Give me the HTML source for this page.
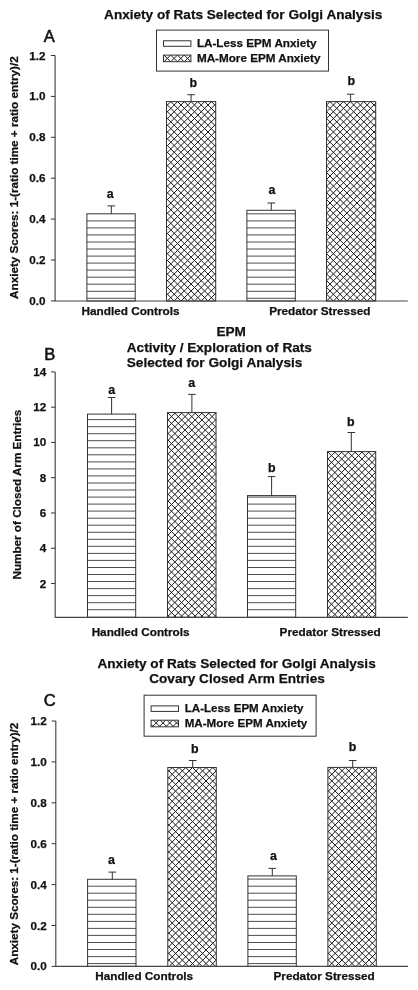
<!DOCTYPE html>
<html><head><meta charset="utf-8"><title>Anxiety of Rats Selected for Golgi Analysis</title>
<style>html,body{margin:0;padding:0;background:#fff}svg{display:block;will-change:transform}text{font-family:'Liberation Sans', sans-serif;fill:#111;stroke:#111;stroke-width:.25px}</style>
</head><body>
<svg width="418" height="990" viewBox="0 0 418 990">
<rect width="418" height="990" fill="#fff"/>
<text x="243.2" y="19.2" font-size="13.6" text-anchor="middle" font-weight="bold" >Anxiety of Rats Selected for Golgi Analysis</text>
<text x="49.2" y="41.9" font-size="16.5" text-anchor="middle" font-weight="normal" style="stroke-width:.55px">A</text>
<path d="M86.9 298.3H135.2M86.9 291.3H135.2M86.9 284.2H135.2M86.9 277.2H135.2M86.9 270.1H135.2M86.9 263.1H135.2M86.9 256.1H135.2M86.9 249H135.2M86.9 242H135.2M86.9 234.9H135.2M86.9 227.9H135.2M86.9 220.9H135.2" stroke="#3a3a3a" stroke-width="0.9" fill="none"/>
<rect x="86.9" y="213.8" width="48.3" height="87.2" fill="none" stroke="#333" stroke-width="1"/>
<path d="M111.3 213.8V205.9M107.5 205.9H115.1" stroke="#333" stroke-width="1" fill="none"/>
<text x="110.1" y="198.4" font-size="12.4" text-anchor="middle" font-weight="bold" >a</text>
<path d="M166.5 300.1L167.4 301M166.5 293.3L174.2 301M166.5 286.6L180.9 301M166.5 279.8L187.7 301M166.5 273.1L194.4 301M166.5 266.3L201.2 301M166.5 259.5L208 301M166.5 252.8L214.7 301M166.5 246L215.7 295.2M166.5 239.3L215.7 288.5M166.5 232.5L215.7 281.7M166.5 225.7L215.7 274.9M166.5 219L215.7 268.2M166.5 212.2L215.7 261.4M166.5 205.5L215.7 254.7M166.5 198.7L215.7 247.9M166.5 191.9L215.7 241.1M166.5 185.2L215.7 234.4M166.5 178.4L215.7 227.6M166.5 171.7L215.7 220.9M166.5 164.9L215.7 214.1M166.5 158.1L215.7 207.3M166.5 151.4L215.7 200.6M166.5 144.6L215.7 193.8M166.5 137.9L215.7 187.1M166.5 131.1L215.7 180.3M166.5 124.3L215.7 173.5M166.5 117.6L215.7 166.8M166.5 110.8L215.7 160M166.5 104.1L215.7 153.3M170.8 101.6L215.7 146.5M177.6 101.6L215.7 139.7M184.3 101.6L215.7 133M191.1 101.6L215.7 126.2M197.8 101.6L215.7 119.5M204.6 101.6L215.7 112.7M211.4 101.6L215.7 105.9M166.5 105.9L170.8 101.6M166.5 112.7L177.6 101.6M166.5 119.4L184.3 101.6M166.5 126.2L191.1 101.6M166.5 132.9L197.8 101.6M166.5 139.7L204.6 101.6M166.5 146.5L211.4 101.6M166.5 153.2L215.7 104M166.5 160L215.7 110.8M166.5 166.7L215.7 117.5M166.5 173.5L215.7 124.3M166.5 180.3L215.7 131.1M166.5 187L215.7 137.8M166.5 193.8L215.7 144.6M166.5 200.5L215.7 151.3M166.5 207.3L215.7 158.1M166.5 214.1L215.7 164.9M166.5 220.8L215.7 171.6M166.5 227.6L215.7 178.4M166.5 234.3L215.7 185.1M166.5 241.1L215.7 191.9M166.5 247.9L215.7 198.7M166.5 254.6L215.7 205.4M166.5 261.4L215.7 212.2M166.5 268.1L215.7 218.9M166.5 274.9L215.7 225.7M166.5 281.7L215.7 232.5M166.5 288.4L215.7 239.2M166.5 295.2L215.7 246M167.4 301L215.7 252.7M174.2 301L215.7 259.5M181 301L215.7 266.3M187.7 301L215.7 273M194.5 301L215.7 279.8M201.2 301L215.7 286.5M208 301L215.7 293.3M214.8 301L215.7 300.1" stroke="#1a1a1a" stroke-width="1.0" fill="none"/>
<rect x="166.5" y="101.6" width="49.2" height="199.4" fill="none" stroke="#333" stroke-width="1"/>
<path d="M191.1 101.6V94.7M187.3 94.7H194.9" stroke="#333" stroke-width="1" fill="none"/>
<text x="193.3" y="86.6" font-size="12.4" text-anchor="middle" font-weight="bold" >b</text>
<path d="M246.9 298.3H295.3M246.9 291.3H295.3M246.9 284.2H295.3M246.9 277.2H295.3M246.9 270.1H295.3M246.9 263.1H295.3M246.9 256.1H295.3M246.9 249H295.3M246.9 242H295.3M246.9 234.9H295.3M246.9 227.9H295.3M246.9 220.9H295.3M246.9 213.8H295.3" stroke="#3a3a3a" stroke-width="0.9" fill="none"/>
<rect x="246.9" y="210.3" width="48.4" height="90.7" fill="none" stroke="#333" stroke-width="1"/>
<path d="M271.3 210.3V203M267.5 203H275.1" stroke="#333" stroke-width="1" fill="none"/>
<text x="272" y="193.9" font-size="12.4" text-anchor="middle" font-weight="bold" >a</text>
<path d="M326.5 294.1L333.4 301M326.5 287.4L340.1 301M326.5 280.6L346.9 301M326.5 273.9L353.6 301M326.5 267.1L360.4 301M326.5 260.3L367.2 301M326.5 253.6L373.9 301M326.5 246.8L375.7 296M326.5 240.1L375.7 289.3M326.5 233.3L375.7 282.5M326.5 226.5L375.7 275.7M326.5 219.8L375.7 269M326.5 213L375.7 262.2M326.5 206.3L375.7 255.5M326.5 199.5L375.7 248.7M326.5 192.7L375.7 241.9M326.5 186L375.7 235.2M326.5 179.2L375.7 228.4M326.5 172.5L375.7 221.7M326.5 165.7L375.7 214.9M326.5 158.9L375.7 208.1M326.5 152.2L375.7 201.4M326.5 145.4L375.7 194.6M326.5 138.7L375.7 187.9M326.5 131.9L375.7 181.1M326.5 125.1L375.7 174.3M326.5 118.4L375.7 167.6M326.5 111.6L375.7 160.8M326.5 104.9L375.7 154.1M330 101.6L375.7 147.3M336.8 101.6L375.7 140.5M343.5 101.6L375.7 133.8M350.3 101.6L375.7 127M357 101.6L375.7 120.3M363.8 101.6L375.7 113.5M370.6 101.6L375.7 106.7M326.5 105.1L330 101.6M326.5 111.9L336.8 101.6M326.5 118.6L343.5 101.6M326.5 125.4L350.3 101.6M326.5 132.1L357 101.6M326.5 138.9L363.8 101.6M326.5 145.7L370.6 101.6M326.5 152.4L375.7 103.2M326.5 159.2L375.7 110M326.5 165.9L375.7 116.7M326.5 172.7L375.7 123.5M326.5 179.5L375.7 130.3M326.5 186.2L375.7 137M326.5 193L375.7 143.8M326.5 199.7L375.7 150.5M326.5 206.5L375.7 157.3M326.5 213.3L375.7 164.1M326.5 220L375.7 170.8M326.5 226.8L375.7 177.6M326.5 233.5L375.7 184.3M326.5 240.3L375.7 191.1M326.5 247.1L375.7 197.9M326.5 253.8L375.7 204.6M326.5 260.6L375.7 211.4M326.5 267.3L375.7 218.1M326.5 274.1L375.7 224.9M326.5 280.9L375.7 231.7M326.5 287.6L375.7 238.4M326.5 294.4L375.7 245.2M326.6 301L375.7 251.9M333.4 301L375.7 258.7M340.2 301L375.7 265.5M346.9 301L375.7 272.2M353.7 301L375.7 279M360.4 301L375.7 285.7M367.2 301L375.7 292.5M374 301L375.7 299.3" stroke="#1a1a1a" stroke-width="1.0" fill="none"/>
<rect x="326.5" y="101.6" width="49.2" height="199.4" fill="none" stroke="#333" stroke-width="1"/>
<path d="M350.6 101.6V94.2M346.8 94.2H354.4" stroke="#333" stroke-width="1" fill="none"/>
<text x="351.2" y="85.4" font-size="12.4" text-anchor="middle" font-weight="bold" >b</text>
<path d="M55.1 55.5V301H407.8" stroke="#454545" stroke-width="1.15" fill="none"/>
<path d="M50.9 55.5H55.1" stroke="#333" stroke-width="1"/>
<text x="45.5" y="60" font-size="11.7" text-anchor="end" font-weight="bold" >1.2</text>
<path d="M50.9 96.4H55.1" stroke="#333" stroke-width="1"/>
<text x="45.5" y="100" font-size="11.7" text-anchor="end" font-weight="bold" >1.0</text>
<path d="M50.9 137.3H55.1" stroke="#333" stroke-width="1"/>
<text x="45.5" y="141" font-size="11.7" text-anchor="end" font-weight="bold" >0.8</text>
<path d="M50.9 178.2H55.1" stroke="#333" stroke-width="1"/>
<text x="45.5" y="182" font-size="11.7" text-anchor="end" font-weight="bold" >0.6</text>
<path d="M50.9 219.1H55.1" stroke="#333" stroke-width="1"/>
<text x="45.5" y="223" font-size="11.7" text-anchor="end" font-weight="bold" >0.4</text>
<path d="M50.9 260H55.1" stroke="#333" stroke-width="1"/>
<text x="45.5" y="264" font-size="11.7" text-anchor="end" font-weight="bold" >0.2</text>
<path d="M50.9 300.9H55.1" stroke="#333" stroke-width="1"/>
<text x="45.5" y="305" font-size="11.7" text-anchor="end" font-weight="bold" >0.0</text>
<text transform="translate(17.9 177.6) rotate(-90)" font-size="11.7" text-anchor="middle" font-weight="bold">Anxiety Scores: 1-(ratio time + ratio entry)/2</text>
<text x="130.5" y="315.2" font-size="11.75" text-anchor="middle" font-weight="bold" >Handled Controls</text>
<text x="319.8" y="315.2" font-size="11.75" text-anchor="middle" font-weight="bold" >Predator Stressed</text>
<rect x="156.5" y="30.1" width="172" height="41" fill="#fff" stroke="#333" stroke-width="1"/>
<rect x="163.5" y="40.8" width="27.4" height="5.5" fill="#fff" stroke="#333" stroke-width="1"/>
<path d="M163.5 61.4L163.8 61.7M164 55.1L170.6 61.7M170.8 55.1L177.4 61.7M177.5 55.1L184.1 61.7M184.3 55.1L190.9 61.7M163.5 55.4L163.8 55.1M164 61.7L170.6 55.1M170.8 61.7L177.4 55.1M177.5 61.7L184.1 55.1M184.3 61.7L190.9 55.1" stroke="#1a1a1a" stroke-width="1.0" fill="none"/>
<rect x="163.5" y="55.1" width="27.4" height="6.6" fill="none" stroke="#333" stroke-width="1"/>
<text x="196.9" y="47" font-size="11.7" text-anchor="start" font-weight="bold" >LA-Less EPM Anxiety</text>
<text x="196.9" y="61.9" font-size="11.7" text-anchor="start" font-weight="bold" >MA-More EPM Anxiety</text>
<text x="231.2" y="336.3" font-size="13.6" text-anchor="middle" font-weight="bold" >EPM</text>
<text x="126.8" y="351.8" font-size="13.6" text-anchor="start" font-weight="bold" >Activity / Exploration of Rats</text>
<text x="126.8" y="367.2" font-size="13.6" text-anchor="start" font-weight="bold" >Selected for Golgi Analysis</text>
<text x="49.7" y="359.9" font-size="16.5" text-anchor="middle" font-weight="normal" style="stroke-width:.55px">B</text>
<path d="M87.5 609.7H135.7M87.5 602.7H135.7M87.5 595.6H135.7M87.5 588.6H135.7M87.5 581.5H135.7M87.5 574.5H135.7M87.5 567.5H135.7M87.5 560.4H135.7M87.5 553.4H135.7M87.5 546.3H135.7M87.5 539.3H135.7M87.5 532.3H135.7M87.5 525.2H135.7M87.5 518.2H135.7M87.5 511.1H135.7M87.5 504.1H135.7M87.5 497.1H135.7M87.5 490H135.7M87.5 483H135.7M87.5 475.9H135.7M87.5 468.9H135.7M87.5 461.9H135.7M87.5 454.8H135.7M87.5 447.8H135.7M87.5 440.7H135.7M87.5 433.7H135.7M87.5 426.7H135.7M87.5 419.6H135.7" stroke="#3a3a3a" stroke-width="0.9" fill="none"/>
<rect x="87.5" y="414.1" width="48.2" height="203.2" fill="none" stroke="#333" stroke-width="1"/>
<path d="M111.6 414.1V397.5M107.8 397.5H115.4" stroke="#333" stroke-width="1" fill="none"/>
<text x="111.6" y="393.7" font-size="12.4" text-anchor="middle" font-weight="bold" >a</text>
<path d="M167.5 615.4L169.4 617.3M167.5 608.6L176.2 617.3M167.5 601.9L182.9 617.3M167.5 595.1L189.7 617.3M167.5 588.4L196.4 617.3M167.5 581.6L203.2 617.3M167.5 574.8L210 617.3M167.5 568.1L216 616.6M167.5 561.3L216 609.8M167.5 554.6L216 603.1M167.5 547.8L216 596.3M167.5 541L216 589.5M167.5 534.3L216 582.8M167.5 527.5L216 576M167.5 520.8L216 569.3M167.5 514L216 562.5M167.5 507.2L216 555.7M167.5 500.5L216 549M167.5 493.7L216 542.2M167.5 487L216 535.5M167.5 480.2L216 528.7M167.5 473.4L216 521.9M167.5 466.7L216 515.2M167.5 459.9L216 508.4M167.5 453.2L216 501.7M167.5 446.4L216 494.9M167.5 439.6L216 488.1M167.5 432.9L216 481.4M167.5 426.1L216 474.6M167.5 419.4L216 467.9M167.5 412.6L216 461.1M174.3 412.6L216 454.3M181 412.6L216 447.6M187.8 412.6L216 440.8M194.5 412.6L216 434.1M201.3 412.6L216 427.3M208.1 412.6L216 420.5M214.8 412.6L216 413.8M167.5 413.8L168.7 412.6M167.5 420.6L175.5 412.6M167.5 427.4L182.3 412.6M167.5 434.1L189 412.6M167.5 440.9L195.8 412.6M167.5 447.6L202.5 412.6M167.5 454.4L209.3 412.6M167.5 461.2L216 412.7M167.5 467.9L216 419.4M167.5 474.7L216 426.2M167.5 481.4L216 432.9M167.5 488.2L216 439.7M167.5 495L216 446.5M167.5 501.7L216 453.2M167.5 508.5L216 460M167.5 515.2L216 466.7M167.5 522L216 473.5M167.5 528.8L216 480.3M167.5 535.5L216 487M167.5 542.3L216 493.8M167.5 549L216 500.5M167.5 555.8L216 507.3M167.5 562.6L216 514.1M167.5 569.3L216 520.8M167.5 576.1L216 527.6M167.5 582.8L216 534.3M167.5 589.6L216 541.1M167.5 596.4L216 547.9M167.5 603.1L216 554.6M167.5 609.9L216 561.4M167.5 616.6L216 568.1M173.6 617.3L216 574.9M180.4 617.3L216 581.7M187.1 617.3L216 588.4M193.9 617.3L216 595.2M200.6 617.3L216 601.9M207.4 617.3L216 608.7M214.2 617.3L216 615.5" stroke="#1a1a1a" stroke-width="1.0" fill="none"/>
<rect x="167.5" y="412.6" width="48.5" height="204.7" fill="none" stroke="#333" stroke-width="1"/>
<path d="M191.9 412.6V394.4M188.1 394.4H195.7" stroke="#333" stroke-width="1" fill="none"/>
<text x="191.6" y="387.2" font-size="12.4" text-anchor="middle" font-weight="bold" >a</text>
<path d="M247.5 609.7H295.7M247.5 602.7H295.7M247.5 595.6H295.7M247.5 588.6H295.7M247.5 581.5H295.7M247.5 574.5H295.7M247.5 567.5H295.7M247.5 560.4H295.7M247.5 553.4H295.7M247.5 546.3H295.7M247.5 539.3H295.7M247.5 532.3H295.7M247.5 525.2H295.7M247.5 518.2H295.7M247.5 511.1H295.7M247.5 504.1H295.7M247.5 497.1H295.7" stroke="#3a3a3a" stroke-width="0.9" fill="none"/>
<rect x="247.5" y="495.6" width="48.2" height="121.7" fill="none" stroke="#333" stroke-width="1"/>
<path d="M271.6 495.6V476.6M267.8 476.6H275.4" stroke="#333" stroke-width="1" fill="none"/>
<text x="271.8" y="471.5" font-size="12.4" text-anchor="middle" font-weight="bold" >b</text>
<path d="M327.5 613.8L331 617.3M327.5 607.1L337.7 617.3M327.5 600.3L344.5 617.3M327.5 593.6L351.2 617.3M327.5 586.8L358 617.3M327.5 580L364.8 617.3M327.5 573.3L371.5 617.3M327.5 566.5L375.7 614.7M327.5 559.8L375.7 608M327.5 553L375.7 601.2M327.5 546.2L375.7 594.4M327.5 539.5L375.7 587.7M327.5 532.7L375.7 580.9M327.5 526L375.7 574.2M327.5 519.2L375.7 567.4M327.5 512.4L375.7 560.6M327.5 505.7L375.7 553.9M327.5 498.9L375.7 547.1M327.5 492.2L375.7 540.4M327.5 485.4L375.7 533.6M327.5 478.6L375.7 526.8M327.5 471.9L375.7 520.1M327.5 465.1L375.7 513.3M327.5 458.4L375.7 506.6M327.5 451.6L375.7 499.8M334.3 451.6L375.7 493M341 451.6L375.7 486.3M347.8 451.6L375.7 479.5M354.5 451.6L375.7 472.8M361.3 451.6L375.7 466M368.1 451.6L375.7 459.2M374.8 451.6L375.7 452.5M327.5 452.8L328.7 451.6M327.5 459.6L335.5 451.6M327.5 466.4L342.3 451.6M327.5 473.1L349 451.6M327.5 479.9L355.8 451.6M327.5 486.6L362.5 451.6M327.5 493.4L369.3 451.6M327.5 500.2L375.7 452M327.5 506.9L375.7 458.7M327.5 513.7L375.7 465.5M327.5 520.4L375.7 472.2M327.5 527.2L375.7 479M327.5 534L375.7 485.8M327.5 540.7L375.7 492.5M327.5 547.5L375.7 499.3M327.5 554.2L375.7 506M327.5 561L375.7 512.8M327.5 567.8L375.7 519.6M327.5 574.5L375.7 526.3M327.5 581.3L375.7 533.1M327.5 588L375.7 539.8M327.5 594.8L375.7 546.6M327.5 601.6L375.7 553.4M327.5 608.3L375.7 560.1M327.5 615.1L375.7 566.9M332 617.3L375.7 573.6M338.8 617.3L375.7 580.4M345.6 617.3L375.7 587.2M352.3 617.3L375.7 593.9M359.1 617.3L375.7 600.7M365.8 617.3L375.7 607.4M372.6 617.3L375.7 614.2" stroke="#1a1a1a" stroke-width="1.0" fill="none"/>
<rect x="327.5" y="451.6" width="48.2" height="165.7" fill="none" stroke="#333" stroke-width="1"/>
<path d="M351.3 451.6V432.5M347.5 432.5H355.1" stroke="#333" stroke-width="1" fill="none"/>
<text x="350.7" y="425.5" font-size="12.4" text-anchor="middle" font-weight="bold" >b</text>
<path d="M55.2 371.9V617.3H407.8" stroke="#454545" stroke-width="1.15" fill="none"/>
<path d="M51 371.9H55.2" stroke="#333" stroke-width="1"/>
<text x="46.3" y="376" font-size="11.7" text-anchor="end" font-weight="bold" >14</text>
<path d="M51 407.17H55.2" stroke="#333" stroke-width="1"/>
<text x="46.3" y="411" font-size="11.7" text-anchor="end" font-weight="bold" >12</text>
<path d="M51 442.44H55.2" stroke="#333" stroke-width="1"/>
<text x="46.3" y="446" font-size="11.7" text-anchor="end" font-weight="bold" >10</text>
<path d="M51 477.71H55.2" stroke="#333" stroke-width="1"/>
<text x="46.3" y="482" font-size="11.7" text-anchor="end" font-weight="bold" >8</text>
<path d="M51 512.98H55.2" stroke="#333" stroke-width="1"/>
<text x="46.3" y="517" font-size="11.7" text-anchor="end" font-weight="bold" >6</text>
<path d="M51 548.25H55.2" stroke="#333" stroke-width="1"/>
<text x="46.3" y="552" font-size="11.7" text-anchor="end" font-weight="bold" >4</text>
<path d="M51 583.52H55.2" stroke="#333" stroke-width="1"/>
<text x="46.3" y="588" font-size="11.7" text-anchor="end" font-weight="bold" >2</text>
<text transform="translate(20.7 494.7) rotate(-90)" font-size="11.7" text-anchor="middle" font-weight="bold">Number of Closed Arm Entries</text>
<text x="140.6" y="636.3" font-size="11.75" text-anchor="middle" font-weight="bold" >Handled Controls</text>
<text x="330.2" y="636.3" font-size="11.75" text-anchor="middle" font-weight="bold" >Predator Stressed</text>
<text x="236.6" y="668" font-size="13.6" text-anchor="middle" font-weight="bold" >Anxiety of Rats Selected for Golgi Analysis</text>
<text x="237" y="683.3" font-size="13.6" text-anchor="middle" font-weight="bold" >Covary Closed Arm Entries</text>
<text x="49.7" y="706" font-size="16.5" text-anchor="middle" font-weight="normal" style="stroke-width:.55px">C</text>
<path d="M87.6 963.6H136M87.6 956.6H136M87.6 949.5H136M87.6 942.5H136M87.6 935.4H136M87.6 928.4H136M87.6 921.4H136M87.6 914.3H136M87.6 907.3H136M87.6 900.2H136M87.6 893.2H136M87.6 886.2H136" stroke="#3a3a3a" stroke-width="0.9" fill="none"/>
<rect x="87.6" y="879.3" width="48.4" height="87.1" fill="none" stroke="#333" stroke-width="1"/>
<path d="M112.3 879.3V872.1M108.5 872.1H116.1" stroke="#333" stroke-width="1" fill="none"/>
<text x="111.5" y="864.4" font-size="12.4" text-anchor="middle" font-weight="bold" >a</text>
<path d="M167.8 965.9L168.3 966.4M167.8 959.1L175.1 966.4M167.8 952.4L181.8 966.4M167.8 945.6L188.6 966.4M167.8 938.9L195.3 966.4M167.8 932.1L202.1 966.4M167.8 925.3L208.9 966.4M167.8 918.6L215.6 966.4M167.8 911.8L216.3 960.3M167.8 905.1L216.3 953.6M167.8 898.3L216.3 946.8M167.8 891.5L216.3 940M167.8 884.8L216.3 933.3M167.8 878L216.3 926.5M167.8 871.3L216.3 919.8M167.8 864.5L216.3 913M167.8 857.7L216.3 906.2M167.8 851L216.3 899.5M167.8 844.2L216.3 892.7M167.8 837.5L216.3 886M167.8 830.7L216.3 879.2M167.8 823.9L216.3 872.4M167.8 817.2L216.3 865.7M167.8 810.4L216.3 858.9M167.8 803.7L216.3 852.2M167.8 796.9L216.3 845.4M167.8 790.1L216.3 838.6M167.8 783.4L216.3 831.9M167.8 776.6L216.3 825.1M167.8 769.9L216.3 818.4M172.2 767.5L216.3 811.6M179 767.5L216.3 804.8M185.7 767.5L216.3 798.1M192.5 767.5L216.3 791.3M199.2 767.5L216.3 784.6M206 767.5L216.3 777.8M212.8 767.5L216.3 771M167.8 771.9L172.2 767.5M167.8 778.7L179 767.5M167.8 785.4L185.7 767.5M167.8 792.2L192.5 767.5M167.8 798.9L199.2 767.5M167.8 805.7L206 767.5M167.8 812.5L212.8 767.5M167.8 819.2L216.3 770.7M167.8 826L216.3 777.5M167.8 832.7L216.3 784.2M167.8 839.5L216.3 791M167.8 846.3L216.3 797.8M167.8 853L216.3 804.5M167.8 859.8L216.3 811.3M167.8 866.5L216.3 818M167.8 873.3L216.3 824.8M167.8 880.1L216.3 831.6M167.8 886.8L216.3 838.3M167.8 893.6L216.3 845.1M167.8 900.3L216.3 851.8M167.8 907.1L216.3 858.6M167.8 913.9L216.3 865.4M167.8 920.6L216.3 872.1M167.8 927.4L216.3 878.9M167.8 934.1L216.3 885.6M167.8 940.9L216.3 892.4M167.8 947.7L216.3 899.2M167.8 954.4L216.3 905.9M167.8 961.2L216.3 912.7M169.3 966.4L216.3 919.4M176.1 966.4L216.3 926.2M182.9 966.4L216.3 933M189.6 966.4L216.3 939.7M196.4 966.4L216.3 946.5M203.1 966.4L216.3 953.2M209.9 966.4L216.3 960" stroke="#1a1a1a" stroke-width="1.0" fill="none"/>
<rect x="167.8" y="767.5" width="48.5" height="198.9" fill="none" stroke="#333" stroke-width="1"/>
<path d="M192.7 767.5V760.5M188.9 760.5H196.5" stroke="#333" stroke-width="1" fill="none"/>
<text x="194.7" y="752.5" font-size="12.4" text-anchor="middle" font-weight="bold" >b</text>
<path d="M247.9 963.6H296.3M247.9 956.6H296.3M247.9 949.5H296.3M247.9 942.5H296.3M247.9 935.4H296.3M247.9 928.4H296.3M247.9 921.4H296.3M247.9 914.3H296.3M247.9 907.3H296.3M247.9 900.2H296.3M247.9 893.2H296.3M247.9 886.2H296.3M247.9 879.1H296.3" stroke="#3a3a3a" stroke-width="0.9" fill="none"/>
<rect x="247.9" y="875.9" width="48.4" height="90.5" fill="none" stroke="#333" stroke-width="1"/>
<path d="M272.3 875.9V868.4M268.5 868.4H276.1" stroke="#333" stroke-width="1" fill="none"/>
<text x="273.4" y="860.1" font-size="12.4" text-anchor="middle" font-weight="bold" >a</text>
<path d="M327.9 959.5L334.8 966.4M327.9 952.8L341.5 966.4M327.9 946L348.3 966.4M327.9 939.3L355 966.4M327.9 932.5L361.8 966.4M327.9 925.7L368.6 966.4M327.9 919L375.3 966.4M327.9 912.2L376.3 960.6M327.9 905.5L376.3 953.9M327.9 898.7L376.3 947.1M327.9 891.9L376.3 940.3M327.9 885.2L376.3 933.6M327.9 878.4L376.3 926.8M327.9 871.7L376.3 920.1M327.9 864.9L376.3 913.3M327.9 858.1L376.3 906.5M327.9 851.4L376.3 899.8M327.9 844.6L376.3 893M327.9 837.9L376.3 886.3M327.9 831.1L376.3 879.5M327.9 824.3L376.3 872.7M327.9 817.6L376.3 866M327.9 810.8L376.3 859.2M327.9 804.1L376.3 852.5M327.9 797.3L376.3 845.7M327.9 790.5L376.3 838.9M327.9 783.8L376.3 832.2M327.9 777L376.3 825.4M327.9 770.3L376.3 818.7M331.8 767.4L376.3 811.9M338.6 767.4L376.3 805.1M345.3 767.4L376.3 798.4M352.1 767.4L376.3 791.6M358.8 767.4L376.3 784.9M365.6 767.4L376.3 778.1M372.4 767.4L376.3 771.3M327.9 771.3L331.8 767.4M327.9 778.1L338.6 767.4M327.9 784.8L345.3 767.4M327.9 791.6L352.1 767.4M327.9 798.3L358.8 767.4M327.9 805.1L365.6 767.4M327.9 811.9L372.4 767.4M327.9 818.6L376.3 770.2M327.9 825.4L376.3 777M327.9 832.1L376.3 783.7M327.9 838.9L376.3 790.5M327.9 845.7L376.3 797.3M327.9 852.4L376.3 804M327.9 859.2L376.3 810.8M327.9 865.9L376.3 817.5M327.9 872.7L376.3 824.3M327.9 879.5L376.3 831.1M327.9 886.2L376.3 837.8M327.9 893L376.3 844.6M327.9 899.7L376.3 851.3M327.9 906.5L376.3 858.1M327.9 913.3L376.3 864.9M327.9 920L376.3 871.6M327.9 926.8L376.3 878.4M327.9 933.5L376.3 885.1M327.9 940.3L376.3 891.9M327.9 947.1L376.3 898.7M327.9 953.8L376.3 905.4M327.9 960.6L376.3 912.2M328.8 966.4L376.3 918.9M335.6 966.4L376.3 925.7M342.4 966.4L376.3 932.5M349.1 966.4L376.3 939.2M355.9 966.4L376.3 946M362.6 966.4L376.3 952.7M369.4 966.4L376.3 959.5" stroke="#1a1a1a" stroke-width="1.0" fill="none"/>
<rect x="327.9" y="767.4" width="48.4" height="199" fill="none" stroke="#333" stroke-width="1"/>
<path d="M352.7 767.4V760.5M348.9 760.5H356.5" stroke="#333" stroke-width="1" fill="none"/>
<text x="352.5" y="751.1" font-size="12.4" text-anchor="middle" font-weight="bold" >b</text>
<path d="M55.8 721V966.4H408" stroke="#454545" stroke-width="1.15" fill="none"/>
<path d="M51.6 721H55.8" stroke="#333" stroke-width="1"/>
<text x="46.8" y="725" font-size="11.7" text-anchor="end" font-weight="bold" >1.2</text>
<path d="M51.6 761.9H55.8" stroke="#333" stroke-width="1"/>
<text x="46.8" y="766" font-size="11.7" text-anchor="end" font-weight="bold" >1.0</text>
<path d="M51.6 802.8H55.8" stroke="#333" stroke-width="1"/>
<text x="46.8" y="807" font-size="11.7" text-anchor="end" font-weight="bold" >0.8</text>
<path d="M51.6 843.7H55.8" stroke="#333" stroke-width="1"/>
<text x="46.8" y="848" font-size="11.7" text-anchor="end" font-weight="bold" >0.6</text>
<path d="M51.6 884.6H55.8" stroke="#333" stroke-width="1"/>
<text x="46.8" y="889" font-size="11.7" text-anchor="end" font-weight="bold" >0.4</text>
<path d="M51.6 925.5H55.8" stroke="#333" stroke-width="1"/>
<text x="46.8" y="930" font-size="11.7" text-anchor="end" font-weight="bold" >0.2</text>
<path d="M51.6 966.4H55.8" stroke="#333" stroke-width="1"/>
<text x="46.8" y="970" font-size="11.7" text-anchor="end" font-weight="bold" >0.0</text>
<text transform="translate(18.2 844) rotate(-90)" font-size="11.7" text-anchor="middle" font-weight="bold">Anxiety Scores: 1-(ratio time + ratio entry)/2</text>
<text x="144.2" y="980.2" font-size="11.75" text-anchor="middle" font-weight="bold" >Handled Controls</text>
<text x="324.1" y="980.2" font-size="11.75" text-anchor="middle" font-weight="bold" >Predator Stressed</text>
<rect x="144.1" y="695.2" width="172" height="41" fill="#fff" stroke="#333" stroke-width="1"/>
<rect x="151.1" y="705.9" width="27.4" height="5.5" fill="#fff" stroke="#333" stroke-width="1"/>
<path d="M151.1 724.6L153.3 726.8M153.5 720.2L160.1 726.8M160.3 720.2L166.9 726.8M167 720.2L173.6 726.8M173.8 720.2L178.5 724.9M151.1 721.2L152.1 720.2M152.3 726.8L158.9 720.2M159.1 726.8L165.7 720.2M165.8 726.8L172.4 720.2M172.6 726.8L178.5 720.9" stroke="#1a1a1a" stroke-width="1.0" fill="none"/>
<rect x="151.1" y="720.2" width="27.4" height="6.6" fill="none" stroke="#333" stroke-width="1"/>
<text x="184.7" y="712.1" font-size="11.6" text-anchor="start" font-weight="bold" >LA-Less EPM Anxiety</text>
<text x="184.7" y="727" font-size="11.6" text-anchor="start" font-weight="bold" >MA-More EPM Anxiety</text>
</svg></body></html>
